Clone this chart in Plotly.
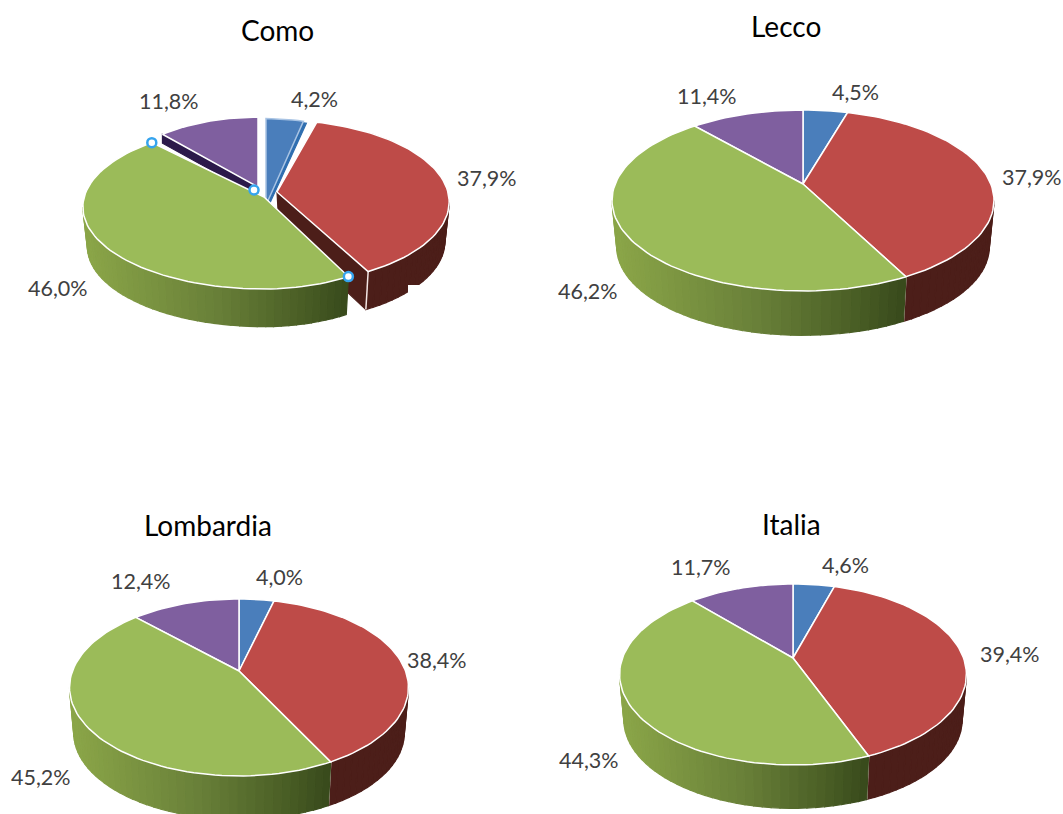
import math
import plotly.graph_objects as go

# ---- data (percent) ----
slices = ["A", "B", "C", "D"]
como = [4.2, 37.9, 46.0, 11.8]
lecco = [4.5, 37.9, 46.2, 11.4]
lombardia = [4.0, 38.4, 45.2, 12.4]
italia = [4.6, 39.4, 44.3, 11.7]

# ---- styling and layout ----
TOP = ["#4a7ebb", "#be4b48", "#9bbb59", "#7f5f9f"]
WALL_RED = "#4c1e19"
FACE_PURPLE = "#2c1a4a"
GREEN_STOPS = [(0.0, (138, 165, 72)), (0.5, (104, 127, 56)), (0.85, (72, 92, 36)), (1.0, (56, 74, 28))]
TEXT = "#404040"
LABEL_FONT = "Lato"

PIES = [
    dict(name="Como", values=como, ax=262, ay=192, k=178, T=72, B=92, depth=40, title=(277, 30),
         labels=[(314, 99), (487, 178), (58, 288), (169, 101)],
         adj=[dict(dx=4, dy=13, sx=0.9, sy=1.2), dict(dx=15, dy=0, sx=0.96, sy=1.0),
              dict(dx=2, dy=5, sx=1.01, sy=1.0, sxr=0.88), dict(dx=-4, dy=-5, sx=0.86, sy=0.97)],
         faces=True),
    dict(name="Lecco", values=lecco, ax=803, ay=184, k=187.8, T=74, B=107, depth=47, title=(786, 26),
         labels=[(855, 92), (1032, 177), (588, 291), (707, 96)]),
    dict(name="Lombardia", values=lombardia, ax=239, ay=671, k=166.5, T=72, B=105, depth=46, title=(208, 525),
         labels=[(279, 577), (437, 660), (41, 777), (141, 581)]),
    dict(name="Italia", values=italia, ax=793, ay=658, k=170.5, T=74, B=107, depth=46, title=(791, 524),
         labels=[(845, 565), (1010, 654), (589, 760), (701, 567)]),
]
WALL_SHRINK = 0.975


def lerp_colour(f):
    f = max(0.0, min(1.0, f))
    for (f0, c0), (f1, c1) in zip(GREEN_STOPS, GREEN_STOPS[1:]):
        if f <= f1:
            g = (f - f0) / (f1 - f0)
            return "rgb(%d,%d,%d)" % tuple(round(a + (b - a) * g) for a, b in zip(c0, c1))
    return "rgb(56,74,28)"


fig = go.Figure()


def poly(xs, ys, fill, line=None, width=1.2):
    fig.add_trace(go.Scatter(x=xs, y=ys, mode="lines", fill="toself", fillcolor=fill,
                             line=dict(color=line or fill, width=width),
                             hoverinfo="skip", showlegend=False))


def draw_pie(p):
    T, B = p["T"], p["B"]
    c = (T - B) / (T + B)
    A = T * (1 - c)
    adj = p.get("adj", [dict(dx=0, dy=0, sx=1, sy=1)] * 4)
    total = 100.0
    bounds = [0.0]
    for v in p["values"]:
        bounds.append(bounds[-1] + v / total * 360.0)
    bounds[-1] = 360.0

    def pt(t, a, wall=False):
        r = math.radians(t)
        u, v = math.sin(r), -math.cos(r)
        d = 1 + c * v
        dx = p["k"] * u / d * a["sx"]
        if u > 0:
            dx *= a.get("sxr", 1.0)
        dy = A * v / d * a["sy"]
        if wall:
            return p["ax"] + a["dx"] + dx * WALL_SHRINK, p["ay"] + a["dy"] + dy * WALL_SHRINK + p["depth"]
        return p["ax"] + a["dx"] + dx, p["ay"] + a["dy"] + dy

    t_ext = math.degrees(math.acos(c))
    # outer wall (red behind, green in front)
    for i in (1, 2):
        a = adj[i]
        lo, hi = max(bounds[i], t_ext), min(bounds[i + 1], 360 - t_ext)
        n = max(2, int((hi - lo) / 2.5))
        ts = [lo + (hi - lo) * j / n for j in range(n + 1)]
        if p.get("faces") and i == 1:
            # cut face of the pulled-out slice
            x0, y0 = p["ax"] + a["dx"], p["ay"] + a["dy"]
            x1, y1 = pt(bounds[2], a)
            x2, y2 = pt(bounds[2], a, True)
            poly([x0, x1, x2, x0 + 2, x0], [y0, y1, y2, y0 + p["depth"] * 0.9, y0], WALL_RED)
        xmin, xmax = pt(360 - t_ext, a, True)[0], pt(bounds[2], a, True)[0]
        for t0, t1 in zip(ts, ts[1:]):
            x0, y0 = pt(t0, a)
            x1, y1 = pt(t1, a)
            x2, y2 = pt(t1, a, True)
            x3, y3 = pt(t0, a, True)
            col = WALL_RED if i == 1 else lerp_colour(((x0 + x1) / 2 - xmin) / (xmax - xmin))
            poly([x0, x1, x2, x3, x0], [y0, y1, y2, y3, y0], col)
        if i == 1:
            x0, y0 = pt(bounds[2], a)
            x1, y1 = pt(bounds[2], a, True)
            fig.add_trace(go.Scatter(x=[x0, x1], y=[y0, y1], mode="lines", hoverinfo="skip", showlegend=False,
                                     line=dict(color="#f3e6e4", width=1.5)))
    if p.get("faces"):
        a = adj[3]
        x0, y0 = p["ax"] + a["dx"], p["ay"] + a["dy"]
        x1, y1 = pt(bounds[3], a)
        poly([x0, x1, x1, x0, x0], [y0, y1, y1 + 9, y0 + 9, y0], FACE_PURPLE)
        # darker rim of the selected blue slice
        a = adj[0]
        n = 6
        pts = [pt(bounds[1] * j / n, a) for j in range(n + 1)]
        x0, y0 = p["ax"] + a["dx"], p["ay"] + a["dy"]
        poly([x0 + 3] + [q[0] + 3 for q in pts] + [x0 + 3], [y0] + [q[1] + 2 for q in pts] + [y0], "#2f6eb0")
    # top faces
    for i in (0, 3, 1, 2):
        a = adj[i]
        lo, hi = bounds[i], bounds[i + 1]
        n = max(4, int((hi - lo) / 2))
        pts = [pt(lo + (hi - lo) * j / n, a) for j in range(n + 1)]
        x0, y0 = p["ax"] + a["dx"], p["ay"] + a["dy"]
        edge = "#a9c4e4" if (i == 0 and p.get("faces")) else "#ffffff"
        poly([x0] + [q[0] for q in pts] + [x0], [y0] + [q[1] for q in pts] + [y0], TOP[i], edge, 1.5)
    # data labels
    for v, (lx, ly) in zip(p["values"], p["labels"]):
        fig.add_annotation(x=lx, y=ly, text=f"{v:.1f}".replace(".", ",") + "%", showarrow=False,
                           font=dict(family=LABEL_FONT, size=21.5, color=TEXT))
    fig.add_annotation(x=p["title"][0], y=p["title"][1], text=p["name"], showarrow=False,
                       font=dict(family=LABEL_FONT, size=28, color="#000000"))
    if p.get("faces"):
        # selection handles of the green slice
        a = adj[2]
        hs = [pt(bounds[2], a), pt(bounds[3], a), (p["ax"] - 8, p["ay"] - 2)]
        fig.add_trace(go.Scatter(x=[h[0] for h in hs], y=[h[1] for h in hs], mode="markers", hoverinfo="skip",
                                 showlegend=False,
                                 marker=dict(size=9, color="#ffffff", line=dict(color="#35a4ee", width=2.5))))


for pie in PIES:
    draw_pie(pie)

fig.update_layout(
    width=1063, height=814, margin=dict(l=0, r=0, t=0, b=0),
    paper_bgcolor="#ffffff", plot_bgcolor="#ffffff", showlegend=False,
    xaxis=dict(range=[0, 1063], visible=False, fixedrange=True),
    yaxis=dict(range=[814, 0], visible=False, fixedrange=True),
    shapes=[dict(type="rect", x0=408, x1=432, y0=285, y1=312, fillcolor="#ffffff", line=dict(width=0))],
)
fig.write_html("out.html", config={"displayModeBar": False},
               post_script="document.body.style.margin='0';document.documentElement.style.overflow='hidden';")
